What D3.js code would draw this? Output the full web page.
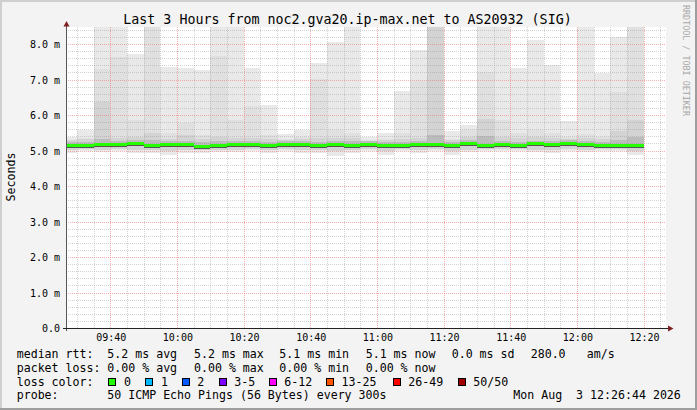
<!DOCTYPE html>
<html><head><meta charset="utf-8">
<script src="https://cdn.jsdelivr.net/npm/d3@7"></script>
<style>
body{margin:0;background:#f3f3f3}
svg{display:block}
text{font-family:"DejaVu Sans Mono",monospace;fill:#000;white-space:pre}
</style>
</head><body>
<svg id="c" width="697" height="410"></svg>
<script>
// ---- data ----
const title = "Last 3 Hours from noc2.gva20.ip-max.net to AS20932 (SIG)";
const timeStart = "09:26:44", timeEnd = "12:26:44";
const times = ["09:30","09:35","09:40","09:45","09:50","09:55","10:00","10:05","10:10","10:15",
  "10:20","10:25","10:30","10:35","10:40","10:45","10:50","10:55","11:00","11:05",
  "11:10","11:15","11:20","11:25","11:30","11:35","11:40","11:45","11:50","11:55",
  "12:00","12:05","12:10","12:15","12:20"];
// ms values
const median = [5.14,5.14,5.18,5.18,5.21,5.14,5.18,5.18,5.12,5.14,5.18,5.18,5.14,5.18,5.18,5.14,5.16,5.14,5.18,5.14,
  5.14,5.18,5.18,5.14,5.21,5.15,5.18,5.14,5.20,5.18,5.21,5.18,5.14,5.14,5.14];
const pingMax = [5.39,5.59,9.6,9.3,7.74,9.8,7.38,7.34,7.27,9.4,9.2,7.34,6.30,5.48,5.59,7.48,8.08,9.1,5.39,5.52,
  6.70,7.85,9.9,5.55,5.73,9.3,9.0,7.34,8.14,7.43,5.84,9.2,7.20,8.21,9.5];
const ping2 = [5.30,5.36,7.30,7.65,5.87,9.8,5.50,5.78,5.45,7.68,5.86,6.28,5.45,5.35,5.40,7.03,5.60,5.50,5.30,5.35,
  5.50,6.96,9.9,5.35,5.59,7.22,5.86,5.50,5.60,5.50,5.40,5.48,5.40,6.66,9.5];
const ping3 = [5.30,5.34,6.38,5.36,5.40,5.50,5.34,5.45,5.33,5.40,5.38,5.36,5.34,5.32,5.33,5.38,5.36,5.36,5.28,5.30,
  5.34,5.38,9.9,5.30,5.40,5.90,5.40,5.36,5.40,5.36,5.34,5.36,5.33,5.55,5.86];
const ping4 = [5.25,5.26,5.33,5.28,5.30,5.31,5.27,5.29,5.24,5.27,5.28,5.28,5.26,5.28,5.28,5.26,5.27,5.27,5.27,5.25,
  5.25,5.28,5.45,5.25,5.30,5.42,5.29,5.25,5.29,5.28,5.30,5.28,5.25,5.30,5.40];
const pingLo = [4.93,5.00,4.97,5.00,4.95,4.93,4.90,4.93,4.95,4.97,4.97,5.00,4.95,5.00,4.95,4.93,4.87,4.95,5.00,4.90,
  5.00,4.95,5.00,4.90,4.97,5.00,5.00,5.00,4.97,4.95,5.00,4.97,5.00,5.00,4.90];
const pingLo2 = [5.02,5.05,5.04,5.05,5.03,5.02,5.00,5.02,5.03,5.04,5.04,5.05,5.03,5.05,5.03,5.02,5.00,5.03,5.05,5.00,
  5.05,5.03,5.05,5.00,5.04,5.05,5.05,5.05,5.04,5.03,5.05,5.04,5.05,5.05,5.00];
const yTicks = [0,1,2,3,4,5,6,7,8];
const yTickLabels = ["0.0","1.0 m","2.0 m","3.0 m","4.0 m","5.0 m","6.0 m","7.0 m","8.0 m"];
const xTickLabels = ["09:40","10:00","10:20","10:40","11:00","11:20","11:40","12:00","12:20"];
const yLabel = "Seconds";
const statRtt = ["5.2 ms avg","5.2 ms max","5.1 ms min","5.1 ms now","0.0 ms sd","280.0","am/s"];
const statLoss = ["0.00 % avg","0.00 % max","0.00 % min","0.00 % now"];
const lossLabels = ["0","1","2","3-5","6-12","13-25","26-49","50/50"];
const lossColors = ["#26ff00","#00b8ff","#0059ff","#7e00ff","#ff00ff","#ff5500","#ff0000","#a00000"];
const probeText = "50 ICMP Echo Pings (56 Bytes) every 300s";
const dateText = "Mon Aug  3 12:26:44 2026";
const watermark = "RRDTOOL / TOBI OETIKER";

// ---- drawing ----
const W = 697, H = 410;
const svg = d3.select("#c");
const P = {left: 66, right: 666, top: 27, bottom: 328.5};
const parse = d3.utcParse("%H:%M:%S"), parseHM = d3.utcParse("%H:%M");
const x = d3.scaleUtc().domain([parse(timeStart), parse(timeEnd)]).range([P.left, P.right]);
const y = d3.scaleLinear().domain([0, 8]).range([328.5, 44.5]);

svg.append("rect").attr("width", W).attr("height", H).attr("fill", "#f3f3f3");
svg.append("rect").attr("x",0).attr("y",0).attr("width",W).attr("height",2).attr("fill","#cfcfcf");
svg.append("rect").attr("x",0).attr("y",0).attr("width",2).attr("height",H).attr("fill","#cfcfcf");
svg.append("rect").attr("x",0).attr("y",H-2).attr("width",W).attr("height",2).attr("fill","#9e9e9e");
svg.append("rect").attr("x",W-2).attr("y",0).attr("width",2).attr("height",H).attr("fill","#9e9e9e");

svg.append("defs").append("clipPath").attr("id","clip").append("rect")
  .attr("x", P.left).attr("y", P.top).attr("width", P.right - P.left).attr("height", P.bottom - P.top);
svg.append("rect").attr("x", P.left).attr("y", P.top).attr("width", P.right - P.left)
  .attr("height", P.bottom - P.top).attr("fill", "#fff");

const rows = times.map((t, i) => {
  const end = parseHM(t);
  return {start: d3.utcMinute.offset(end, -5), end, med: median[i], max: pingMax[i], p2: ping2[i],
    p3: ping3[i], p4: ping4[i], lo: pingLo[i], lo2: pingLo2[i]};
});
const g = svg.append("g").attr("clip-path", "url(#clip)").attr("shape-rendering", "crispEdges");
const X0 = d => Math.round(Math.max(x(d.start), P.left));
const X1 = d => Math.round(x(d.end));
function layer(lo, hi, color) {
  g.selectAll(null).data(rows).join("rect")
    .attr("x", X0).attr("width", d => X1(d) - X0(d))
    .attr("y", d => Math.round(y(hi(d)))).attr("height", d => Math.round(y(lo(d))) - Math.round(y(hi(d))))
    .attr("fill", color);
}
layer(d => d.lo, d => d.max, "#e9e9e9");
layer(d => d.lo2, d => d.p2, "#e0e0e0");
layer(d => d.lo2, d => d.p3, "#d3d3d3");
layer(d => d.med, d => d.p4, "#bcbcbc");

// grid
const grid = svg.append("g").attr("shape-rendering", "crispEdges");
const minorX = x.ticks(d3.utcMinute.every(5));
const majorX = xTickLabels.map(s => parseHM(s));
const isMajorX = t => majorX.some(m => +m === +t);
const minorCol = "rgba(150,150,150,0.42)", majorCol = "rgba(240,110,110,0.55)";
grid.selectAll(null).data(minorX.filter(t => !isMajorX(t))).join("line")
  .attr("x1", t => Math.round(x(t)) + 0.5).attr("x2", t => Math.round(x(t)) + 0.5)
  .attr("y1", P.top).attr("y2", P.bottom)
  .attr("stroke", minorCol).attr("stroke-dasharray", "1,1");
const minorY = d3.range(1, 43).map(k => k * 0.2).filter(v => Math.abs(v - Math.round(v)) > 0.01);
grid.selectAll(null).data(minorY).join("line")
  .attr("x1", P.left).attr("x2", P.right)
  .attr("y1", v => Math.round(y(v) - 0.5) + 0.5).attr("y2", v => Math.round(y(v) - 0.5) + 0.5)
  .attr("stroke", minorCol).attr("stroke-dasharray", "1,1");
grid.selectAll(null).data(majorX).join("line")
  .attr("x1", t => Math.round(x(t)) + 0.5).attr("x2", t => Math.round(x(t)) + 0.5)
  .attr("y1", P.top).attr("y2", P.bottom)
  .attr("stroke", majorCol).attr("stroke-dasharray", "1,1");
grid.selectAll(null).data(yTicks.filter(v => v > 0)).join("line")
  .attr("x1", P.left).attr("x2", P.right)
  .attr("y1", v => y(v)).attr("y2", v => y(v))
  .attr("stroke", majorCol).attr("stroke-dasharray", "1,1");

// median lines
const m = svg.append("g").attr("clip-path", "url(#clip)").attr("shape-rendering", "crispEdges");
m.selectAll(null).data(rows).join("rect")
  .attr("x", X0).attr("width", d => X1(d) - X0(d))
  .attr("y", d => Math.round(y(d.med)) + 1).attr("height", 1).attr("fill", "#555");
m.selectAll(null).data(rows).join("rect")
  .attr("x", X0).attr("width", d => X1(d) - X0(d))
  .attr("y", d => Math.round(y(d.med)) - 2).attr("height", 3).attr("fill", lossColors[0]);

// axes
const ax = svg.append("g").attr("shape-rendering", "crispEdges");
ax.append("line").attr("x1", 66.5).attr("x2", 66.5).attr("y1", 331).attr("y2", 25).attr("stroke", "#555");
ax.append("line").attr("x1", 63).attr("x2", 669).attr("y1", 328.5).attr("y2", 328.5).attr("stroke", "#222");
svg.append("path").attr("d", "M63.5,26.5L69.5,26.5L66.5,21Z").attr("fill", "#801f1f");
svg.append("path").attr("d", "M668,325.5L668,331.5L673.5,328.5Z").attr("fill", "#801f1f");

// tick labels
svg.selectAll(null).data(yTicks).join("text")
  .attr("x", 60).attr("y", v => y(v) + 3.8).attr("text-anchor", "end")
  .attr("font-size", "10px").text((v, i) => yTickLabels[i]);
svg.selectAll(null).data(majorX).join("text")
  .attr("x", t => x(t) + 1).attr("y", 340.5).attr("text-anchor", "middle")
  .attr("font-size", "10px").text((t, i) => xTickLabels[i]);

// title & labels
svg.append("text").attr("x", 347.5).attr("y", 24).attr("text-anchor", "middle")
  .attr("font-size", "13.3px").text(title);
svg.append("text").attr("transform", "translate(14.5,177) rotate(-90)").attr("text-anchor", "middle")
  .attr("font-size", "11.6px").text(yLabel);
svg.append("text").attr("transform", "translate(683,5) rotate(90)")
  .attr("font-size", "8.4px").style("fill", "#a8a8a8").text(watermark);

// legend
const LF = "11.6px";
function t(xp, yp, s) { svg.append("text").attr("x", xp).attr("y", yp).attr("font-size", LF).text(s); }
t(16.7, 357.5, "median rtt:");
const rttX = [107.3, 194, 279.3, 365.7, 451.7, 530.7, 586.7];
statRtt.forEach((s, i) => t(rttX[i], 357.5, s));
t(16.7, 371.5, "packet loss:");
const lossX = [107.3, 194, 279.3, 365.7];
statLoss.forEach((s, i) => t(lossX[i], 371.5, s));
t(16.7, 385.5, "loss color:");
const boxX = [108.5, 145.5, 182.5, 219.5, 269.5, 326.5, 393.5, 458.5];
const labX = [124, 161, 197.3, 234.3, 284.3, 341.5, 408.3, 473.3];
lossLabels.forEach((s, i) => {
  svg.append("rect").attr("x", boxX[i]).attr("y", 378.5).attr("width", 7).attr("height", 7)
    .attr("fill", lossColors[i]).attr("stroke", "#000").attr("stroke-width", 1);
  t(labX[i], 385.5, s);
});
t(16.7, 399.3, "probe:");
t(107.3, 399.3, probeText);
t(513.3, 399.3, dateText);
</script>
</body></html>
